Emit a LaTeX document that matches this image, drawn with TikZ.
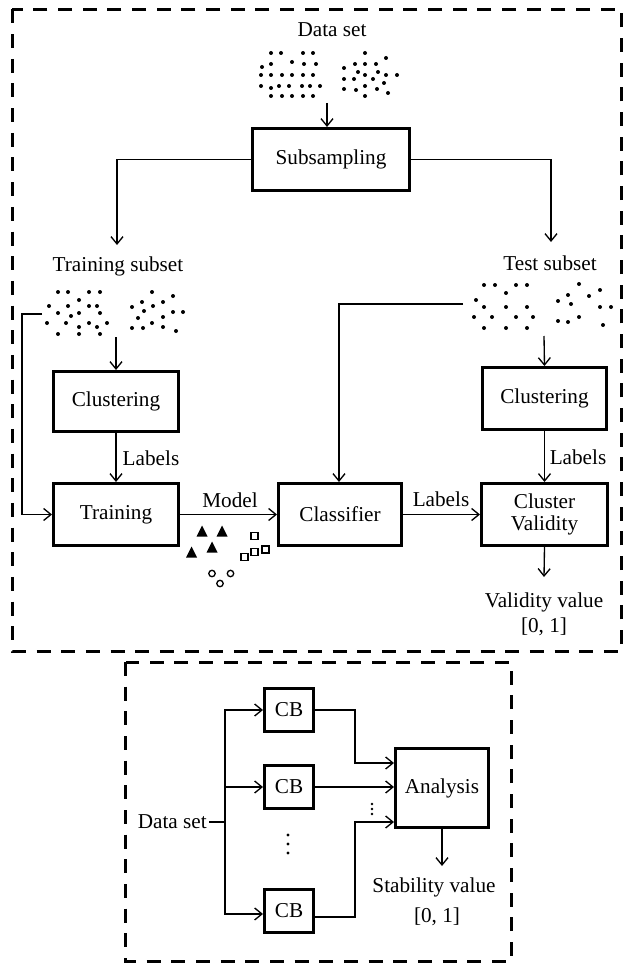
\documentclass[tikz,border=0pt]{standalone}
\usepackage{fontspec}
\setmainfont{Liberation Serif}
\usetikzlibrary{arrows.meta,calc}
\begin{document}
\begin{tikzpicture}[x=0.75pt,y=-0.75pt,
  font=\fontsize{15.9}{18.5}\selectfont,
  box/.style={draw,line width=2.25pt,inner sep=0pt,align=center},
  conn/.style={line width=1pt,-{Straight Barb[length=5.5pt,width=9pt]}},
  plain/.style={line width=1pt},
  frame/.style={line width=2.25pt,dash pattern=on 10.5pt off 8pt},
  lbl/.style={inner sep=0pt,align=center},
  dot/.style={fill=black}]
\useasboundingbox (0,0) rectangle (623,963);

% frames
\draw[frame] (12,9.5) rectangle (621.5,651);
\draw[frame] (125.5,662) rectangle (511,961.5);

% boxes
\node[box,minimum width=117.75pt,minimum height=46.5pt] (sub) at (331,159.5) {Subsampling};
\node[box,minimum width=93.75pt,minimum height=45pt] (clL) at (116,401.5) {Clustering};
\node[box,minimum width=93.75pt,minimum height=46.5pt] (train) at (116,514.5) {Training};
\node[box,minimum width=92.25pt,minimum height=46.5pt] (cls) at (340,514.5) {Classifier};
\node[box,minimum width=93pt,minimum height=46.5pt] (clR) at (544.5,398.5) {Clustering};
\node[box,minimum width=94.5pt,minimum height=46.5pt] (cv) at (544.5,514.5) {Cluster\\[-2pt]Validity};
\node[box,minimum width=36.75pt,minimum height=32.25pt] (cb1) at (289,710) {CB};
\node[box,minimum width=36.75pt,minimum height=32.25pt] (cb2) at (289,787) {CB};
\node[box,minimum width=36.75pt,minimum height=32.25pt] (cb3) at (289,910.5) {CB};
\node[box,minimum width=69.75pt,minimum height=59.25pt] (an) at (442,788) {Analysis};

% labels
\node[lbl] (ds) at (332,30) {Data set};
\node[lbl] (trs) at (118,266) {Training subset};
\node[lbl] (tes) at (550,263) {Test subset};
\node[lbl] (lab1) at (151,458) {Labels};
\node[lbl] (model) at (230,500) {Model};
\node[lbl] (lab2) at (441,499) {Labels};
\node[lbl] (lab3) at (578,457) {Labels};
\node[lbl] (vv) at (544,602) {Validity value};
\node[lbl] (vr) at (544,627) {[0, 1]};
\node[lbl,anchor=east] (ds2) at (207,822) {Data set};
\node[lbl] (sv) at (434,887) {Stability value};
\node[lbl] (sr) at (437,917) {[0, 1]};

% dot clusters
\foreach \x/\y in {271/53,281/53,303/53,313/53,292/62,271/64,304/64,316/64,262/67,
  261/75,271/75,282/75,292/75,303/75,313/75,261/86,271/88,279/86,289/86,302/86,310/86,320/86,
  271/96,282/96,292/96,303/96,313/96,
  365/53,386/58,355/64,365/64,376/64,344/68,358/72,378/72,386/75,397/75,365/75,344/79,354/79,
  373/79,384/83,365/86,344/89,356/90,377/89,388/93,365/96}
  \fill[dot] (\x,\y) circle (1.5pt);
\foreach \x/\y in {58/292,68/292,89/292,100/292,79/300,49/306,68/306,89/306,97/306,58/313,79/313,
  100/313,71/316,47/323,66/323,79/327,89/323,97/327,107/323,58/334,79/334,100/334,
  152/292,173/296,142/302,163/302,132/307,153/306,144/311,173/312,183/312,163/317,138/318,
  152/323,132/328,143/328,163/327,176/331}
  \fill[dot] (\x,\y) circle (1.5pt);
\foreach \x/\y in {484/285,495/285,516/285,527/285,506/293,476/300,484/307,506/307,527/307,
  474/317,492/317,516/317,533/317,484/328,506/328,527/328,
  579/284,600/290,589/296,568/295,558/301,571/304,600/307,611/307,558/321,568/322,579/317,603/325}
  \fill[dot] (\x,\y) circle (1.5pt);

% model symbols
\foreach \x/\y in {202/531,222/531,191.5/552,212/547}
  \fill (\x,\y) ++(-5.5,5.5) -- ++(11,0) -- ++(-5.5,-11) -- cycle;
\foreach \x/\y in {254.5/536,244.5/557,254.5/552,265.5/549.5}
  \draw[line width=1pt] (\x,\y) ++(-3.5,-3.5) rectangle ++(7,7);
\foreach \x/\y in {212/573.5,230.5/573.5,220/583.5}
  \draw[line width=1pt] (\x,\y) circle (2.4pt);

% coordinates
\coordinate (dsc) at (327,103);
\coordinate (trin) at (117,245);
\coordinate (tein) at (551,242);
\coordinate (trc) at (116,337);
\coordinate (trl) at (42,314);
\coordinate (trk) at (22,314);
\coordinate (tec) at (544,336);
\coordinate (tel) at (463,304);
\coordinate (vvin) at (544,577);
\coordinate (j) at (225,822);

% connectors (top)
\draw[conn] (dsc) -- (dsc |- sub.north);
\draw[conn] (sub.west) -| (trin);
\draw[conn] (sub.east) -| (tein);
\draw[conn] (trc) -- (clL.north);
\draw[conn] (trl) -- (trk) |- (train.west);
\draw[conn] (clL.south) -- (train.north);
\draw[conn] (train.east) -- (cls.west);
\draw[conn] (tel) -| ([xshift=-0.75pt]cls.north);
\draw[conn] (tec) -- (clR.north);
\draw[conn] (clR.south) -- (cv.north);
\draw[conn] (cls.east) -- (cv.west);
\draw[conn] (cv.south) -- (vvin);

% connectors (bottom)
\draw[plain] ([xshift=1.5pt]ds2.east) -- (j);
\draw[conn] (j) |- (cb1.west);
\draw[conn] (j) |- (cb2.west);
\draw[conn] (j) |- ([yshift=-2.6pt]cb3.west);
\draw[conn] (cb1.east) -- ++(40,0) |- ([yshift=18.75pt]an.west);
\draw[conn] (cb2.east) -- (an.west |- cb2.east);
\draw[conn] ([yshift=-4.9pt]cb3.east) -- ++(40,0) |- ([yshift=-25.5pt]an.west);
\draw[conn] (an.south) -- ++(0,37);

\foreach \y in {835,844,853} \fill (288,\y) circle (1.3pt);
\foreach \y in {804,809,814} \fill (372,\y) circle (1.1pt);
\end{tikzpicture}
\end{document}
